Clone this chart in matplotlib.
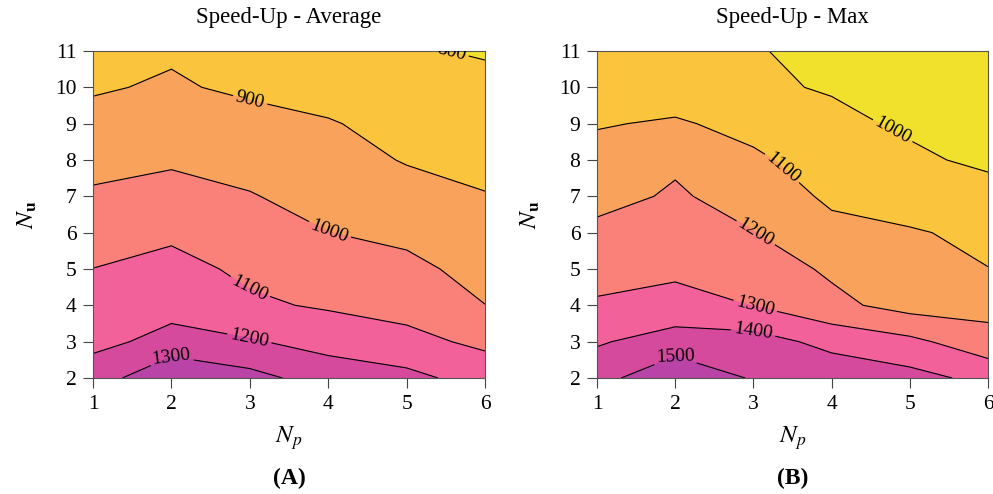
import numpy as np
import matplotlib
matplotlib.use("Agg")
import matplotlib.pyplot as plt

plt.rcParams['font.family'] = ['Liberation Serif', 'DejaVu Serif']
plt.rcParams['mathtext.fontset'] = 'stix'

np_vals = [1, 2, 3, 4, 5, 6]
nu_vals = [2, 3, 4, 5, 6, 7, 8, 9, 10, 11]

# Speed-up average; rows: Nu = 2..11, cols: Np = 1..6
speedup_avg = [
    [1229, 1420, 1332, 1255, 1228, 1158],
    [1186, 1216, 1209, 1166, 1127, 1080],
    [1143, 1184, 1115, 1089, 1068, 1001],
    [1101, 1130, 1081, 1044, 1023, 969],
    [1057, 1083, 1043, 1001, 979, 937],
    [1013, 1033, 1005, 968, 936, 904],
    [971, 988, 970, 937, 894, 876],
    [931, 953, 935, 905, 877, 848],
    [890, 912, 881, 873, 845, 821],
    [850, 888, 855, 845, 808, 793],
]

# Speed-up max
speedup_max = [
    [1462, 1585, 1490, 1467, 1433, 1372],
    [1390, 1443, 1442, 1370, 1324, 1238],
    [1312, 1338, 1298, 1225, 1163, 1166],
    [1263, 1279, 1251, 1185, 1135, 1101],
    [1218, 1247, 1202, 1132, 1106, 1085],
    [1176, 1209, 1170, 1080, 1068, 1040],
    [1135, 1189, 1116, 1056, 1018, 980],
    [1093, 1111, 1071, 1024, 985, 960],
    [1052, 1050, 1015, 992, 960, 945],
    [1011, 1020, 1005, 980, 940, 930],
]

levels_avg = [800, 900, 1000, 1100, 1200, 1300]
levels_max = [1000, 1100, 1200, 1300, 1400, 1500]

band_colors = ['#F1E12D', '#FAC43C', '#F9A25C', '#F9817A',
               '#F2619A', '#D64A9E', '#B943A6']

label_pos_avg = [(5.57, 10.95), (2.99, 9.53), (4.0, 5.95), (3.0, 4.48),
                 (3.0, 3.17), (2.0, 2.62)]
label_pos_max = [(4.81, 8.92), (3.45, 7.97), (3.0, 5.9), (3.02, 3.95),
                 (3.0, 3.35), (2.0, 2.64)]

fig = plt.figure(figsize=(9.93, 4.94), dpi=100)

panels = [
    dict(rect=[0.0937, 0.2348, 0.3948, 0.662], z=speedup_avg, lev=levels_avg,
         title='Speed-Up - Average', tag='(A)', lab=label_pos_avg, ylx=0.028),
    dict(rect=[0.6012, 0.2348, 0.3938, 0.662], z=speedup_max, lev=levels_max,
         title='Speed-Up - Max', tag='(B)', lab=label_pos_max, ylx=0.534),
]

X, Y = np.meshgrid(np_vals, nu_vals)
for p in panels:
    ax = fig.add_axes(p['rect'])
    Z = np.array(p['z'], dtype=float)
    lev = p['lev']
    fill_levels = [lev[0] - 500] + lev + [lev[-1] + 500]
    ax.contourf(X, Y, Z, levels=fill_levels, colors=band_colors)
    cs = ax.contour(X, Y, Z, levels=lev, colors='black', linewidths=0.8)
    txts = ax.clabel(cs, fmt='%d', fontsize=14, inline=True, inline_spacing=3,
                     manual=p['lab'])
    for t in txts:
        t.set_clip_on(True)
        t.set_clip_path(ax.patch)
    ax.set_xlim(1, 6)
    ax.set_ylim(2, 11)
    ax.set_xticks(np_vals)
    ax.set_yticks(nu_vals)
    ax.tick_params(direction='out', length=7, width=0.8, labelsize=15.5,
                   color='#444444', top=False, right=False, pad=5)
    for s in ax.spines.values():
        s.set_color('#555555')
        s.set_linewidth(0.8)
    cx = p['rect'][0] + p['rect'][2] / 2
    fig.text(cx, 1 - 18 / 494, p['title'], ha='center', va='center', fontsize=16.5)
    fig.text(cx, 1 - 438 / 494, r'$N_p$', ha='center', va='center', fontsize=18)
    fig.text(cx, 1 - 478 / 494, p['tag'], ha='center', va='center', fontsize=17,
             fontweight='bold')
    fig.text(p['ylx'], 1 - 215 / 494, r'$N_{\mathbf{u}}$', ha='center', va='center',
             fontsize=18, rotation=90)

fig.savefig('out.png', dpi=100)
